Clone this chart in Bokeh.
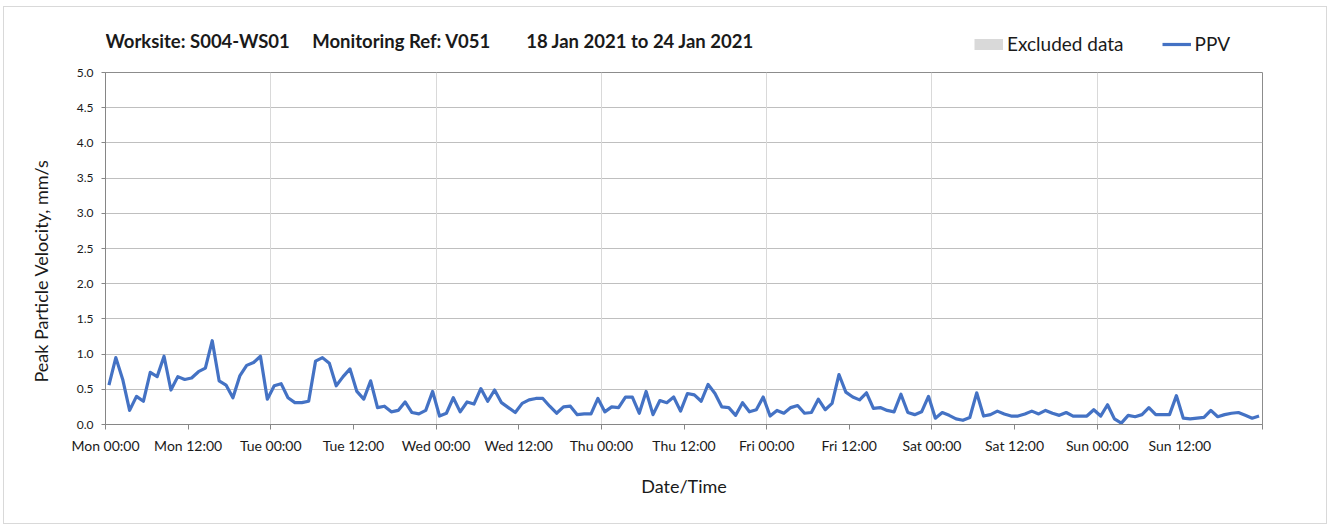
from bokeh.plotting import figure
from bokeh.layouts import column
from bokeh.models import (FixedTicker, Range1d, Legend, LegendItem, Grid, NumeralTickFormatter,
                          Title, Label)
from bokeh.embed import file_html
from bokeh.resources import INLINE

# ---- data ----
title_parts = ["Worksite: S004-WS01", "Monitoring Ref: V051", "18 Jan 2021 to 24 Jan 2021"]
tick_labels = ["Mon 00:00", "Mon 12:00", "Tue 00:00", "Tue 12:00", "Wed 00:00", "Wed 12:00",
               "Thu 00:00", "Thu 12:00", "Fri 00:00", "Fri 12:00", "Sat 00:00", "Sat 12:00",
               "Sun 00:00", "Sun 12:00"]
# hourly PPV values (mm/s), Mon 00:00 .. Sun 23:00
ppv_mon = [0.56, 0.95, 0.64, 0.20, 0.40, 0.33, 0.74, 0.68, 0.97, 0.49, 0.68, 0.64,
           0.66, 0.75, 0.80, 1.19, 0.62, 0.56, 0.38, 0.69, 0.84, 0.88, 0.97, 0.36]
ppv_tue = [0.55, 0.58, 0.38, 0.31, 0.31, 0.33, 0.90, 0.95, 0.87, 0.55, 0.68, 0.79,
           0.47, 0.36, 0.62, 0.24, 0.26, 0.18, 0.20, 0.32, 0.17, 0.15, 0.20, 0.47]
ppv_wed = [0.12, 0.16, 0.38, 0.18, 0.32, 0.29, 0.51, 0.33, 0.49, 0.31, 0.24, 0.17,
           0.30, 0.35, 0.37, 0.37, 0.26, 0.16, 0.25, 0.26, 0.14, 0.15, 0.15, 0.37]
ppv_thu = [0.18, 0.25, 0.24, 0.39, 0.39, 0.16, 0.47, 0.14, 0.34, 0.31, 0.39, 0.19,
           0.44, 0.42, 0.33, 0.57, 0.44, 0.25, 0.24, 0.13, 0.31, 0.18, 0.21, 0.39]
ppv_fri = [0.12, 0.20, 0.16, 0.24, 0.27, 0.16, 0.17, 0.36, 0.21, 0.30, 0.71, 0.46,
           0.39, 0.35, 0.45, 0.23, 0.24, 0.20, 0.18, 0.43, 0.17, 0.14, 0.18, 0.40]
ppv_sat = [0.09, 0.17, 0.13, 0.08, 0.06, 0.10, 0.45, 0.12, 0.14, 0.19, 0.15, 0.12,
           0.12, 0.15, 0.19, 0.15, 0.20, 0.16, 0.13, 0.17, 0.12, 0.12, 0.12, 0.21]
ppv_sun = [0.12, 0.28, 0.08, 0.02, 0.13, 0.11, 0.14, 0.24, 0.14, 0.14, 0.14, 0.41,
           0.09, 0.08, 0.09, 0.10, 0.20, 0.11, 0.14, 0.16, 0.17, 0.13, 0.09, 0.12]
# excluded-data periods (none in this week)
excluded_start = []
excluded_end = []

ppv = ppv_mon + ppv_tue + ppv_wed + ppv_thu + ppv_fri + ppv_sat + ppv_sun
hours = [h + 0.5 for h in range(len(ppv))]

FONT = "Lato"
TXT = "#1a1a1a"
NB = "\u00a0"
PPV_COLOR = "#4472C4"
EXCL_COLOR = "#d9d9d9"

W = 1322
HEAD_H = 56
FRAME_W = 1157

# ---------------- header (title + legend) ----------------
# its frame is aligned by the column layout with the chart frame below
head = figure(width=W, height=HEAD_H, output_backend="svg", toolbar_location=None,
              x_range=Range1d(0, FRAME_W), y_range=Range1d(0, HEAD_H),
              x_axis_location=None, y_axis_location=None, title=None,
              min_border=0, min_border_left=0, min_border_right=0,
              min_border_top=0, min_border_bottom=0)
head.grid.visible = False
head.outline_line_color = None
head.background_fill_color = "white"
head.border_fill_color = "white"

head.add_layout(Label(x=0, y=23, text=title_parts[0] + NB * 5 + title_parts[1] + NB * 8 + title_parts[2],
                      text_font=FONT, text_font_size="18.5px", text_font_style="bold",
                      text_color=TXT, text_baseline="middle", text_align="left"))

# hidden legend proxies (legend keys only)
excl_proxy = head.line(x=hours, y=ppv, line_color=EXCL_COLOR, line_width=11, line_cap="butt",
                       visible=False)
ppv_proxy = head.line(x=hours, y=ppv, line_color=PPV_COLOR, line_width=3.2, visible=False)
legend = Legend(items=[LegendItem(label="Excluded data", renderers=[excl_proxy]),
                       LegendItem(label="PPV", renderers=[ppv_proxy])],
                orientation="horizontal", location=(869, 8),
                glyph_width=29, glyph_height=22, label_height=22,
                label_text_font=FONT, label_text_font_size="19px", label_text_color=TXT,
                label_standoff=4, spacing=38, padding=0, margin=0,
                inactive_fill_alpha=0, click_policy="none",
                border_line_alpha=0, background_fill_alpha=0)
head.add_layout(legend, "center")

# ---------------- main chart ----------------
p = figure(width=W, height=460, output_backend="svg", toolbar_location=None,
           x_range=Range1d(0, 168), y_range=Range1d(0, 5), title=None,
           min_border_left=101, min_border_right=64, min_border_top=9, min_border_bottom=99)
p.background_fill_color = "white"
p.border_fill_color = "white"
p.outline_line_color = "#8c8c8c"
p.outline_line_width = 1

# x axis
xa = p.xaxis[0]
xa.ticker = FixedTicker(ticks=list(range(0, 169, 12)))
overrides = {i * 12: lab for i, lab in enumerate(tick_labels)}
overrides[168] = ""
xa.major_label_overrides = overrides
xa.axis_label = "Date/Time"
xa.axis_label_text_font = FONT
xa.axis_label_text_font_size = "18px"
xa.axis_label_text_font_style = "normal"
xa.axis_label_text_color = TXT
xa.axis_label_standoff = 18
xa.major_label_text_font = FONT
xa.major_label_text_font_size = "14px"
xa.major_label_text_color = TXT
xa.major_label_standoff = 7
xa.major_tick_out = 5
xa.major_tick_in = 0
xa.minor_tick_out = 0
xa.minor_tick_in = 0
xa.axis_line_color = "#868686"
xa.major_tick_line_color = "#868686"

# y axis
ya = p.yaxis[0]
ya.ticker = FixedTicker(ticks=[i * 0.5 for i in range(11)])
ya.formatter = NumeralTickFormatter(format="0.0")
ya.major_label_text_font = FONT
ya.major_label_text_font_size = "12px"
ya.major_label_text_color = TXT
ya.major_label_standoff = 8
ya.major_tick_out = 4
ya.major_tick_in = 0
ya.minor_tick_out = 0
ya.minor_tick_in = 0
ya.axis_line_color = "#868686"
ya.major_tick_line_color = "#868686"

ylab = Title(text="Peak Particle Velocity, mm/s", align="left", offset=42,
             text_font=FONT, text_font_size="18px", text_font_style="normal",
             text_color=TXT, standoff=44)
p.add_layout(ylab, "left")

# grids
p.xgrid.visible = False
p.ygrid.grid_line_color = "#bfbfbf"
p.ygrid.grid_line_width = 1
vgrid = Grid(dimension=0, ticker=FixedTicker(ticks=list(range(24, 168, 24))),
             grid_line_color="#d9d9d9", grid_line_width=1)
p.add_layout(vgrid)

# excluded data periods and PPV line
p.quad(left=excluded_start, right=excluded_end, bottom=0, top=5,
       fill_color=EXCL_COLOR, line_color=None)
p.line(hours, ppv, line_color=PPV_COLOR, line_width=3.2, line_join="round")

layout = column(head, p, spacing=0)
layout.styles = {"border": "1px solid #d9d9d9", "margin-left": "3px", "margin-top": "6px"}

open("out.html", "w").write(file_html(layout, INLINE))
